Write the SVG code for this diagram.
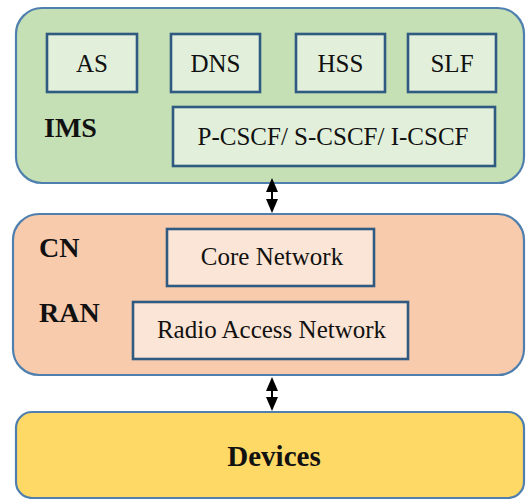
<svg xmlns="http://www.w3.org/2000/svg" width="526" height="499" viewBox="0 0 526 499">
<style>
.cont{stroke:#4f7fae;stroke-width:2.2}
.box{stroke:#2f5a82;stroke-width:2.6}
text{font-family:'Liberation Serif','Times New Roman',serif;fill:#111}
.t{font-size:25px;text-anchor:middle}
.b{font-size:28px;font-weight:bold}
.arr{stroke:#000;stroke-width:2;fill:none}
.head{fill:#000}
</style>
<rect width="526" height="499" fill="#fff"/>
<g id="ims">
<rect class="cont" x="16" y="8" width="508" height="175" rx="26" fill="#c5e0b4"/>
<text class="b" x="44" y="137">IMS</text>
</g>
<g id="as"><rect class="box" x="47" y="34" width="90" height="58" fill="#e2efda"/><text class="t" x="92" y="72">AS</text></g>
<g id="dns"><rect class="box" x="171" y="34" width="89" height="58" fill="#e2efda"/><text class="t" x="215.5" y="72">DNS</text></g>
<g id="hss"><rect class="box" x="296" y="34" width="89" height="58" fill="#e2efda"/><text class="t" x="340.5" y="72">HSS</text></g>
<g id="slf"><rect class="box" x="408" y="34" width="88" height="58" fill="#e2efda"/><text class="t" x="452" y="72">SLF</text></g>
<g id="cscf"><rect class="box" x="173" y="107" width="322" height="59" fill="#e2efda"/><text class="t" x="333" y="145">P-CSCF/ S-CSCF/ I-CSCF</text></g>
<g id="cn">
<rect class="cont" x="13" y="214" width="511" height="161" rx="26" fill="#f8cbad"/>
<text class="b" x="39" y="257">CN</text>
<text class="b" x="39" y="322">RAN</text>
</g>
<g id="core"><rect class="box" x="167" y="229" width="207" height="57" fill="#fbe5d6"/><text class="t" x="272" y="265">Core Network</text></g>
<g id="ran"><rect class="box" x="133" y="302" width="275" height="57" fill="#fbe5d6"/><text class="t" x="271.5" y="338">Radio Access Network</text></g>
<g id="devices">
<rect class="cont" x="16" y="412" width="508" height="86" rx="16" fill="#ffd966"/>
<text class="b" x="274" y="466" text-anchor="middle" style="font-size:29px">Devices</text>
</g>
<g id="connectors">
<line class="arr" x1="272" y1="188" x2="272" y2="203"/>
<polygon class="head" points="272,178 266,192 278,192"/>
<polygon class="head" points="272,213 266,199 278,199"/>
<line class="arr" x1="272" y1="387" x2="272" y2="401"/>
<polygon class="head" points="272,377 266,391 278,391"/>
<polygon class="head" points="272,411 266,397 278,397"/>
</g>
</svg>
